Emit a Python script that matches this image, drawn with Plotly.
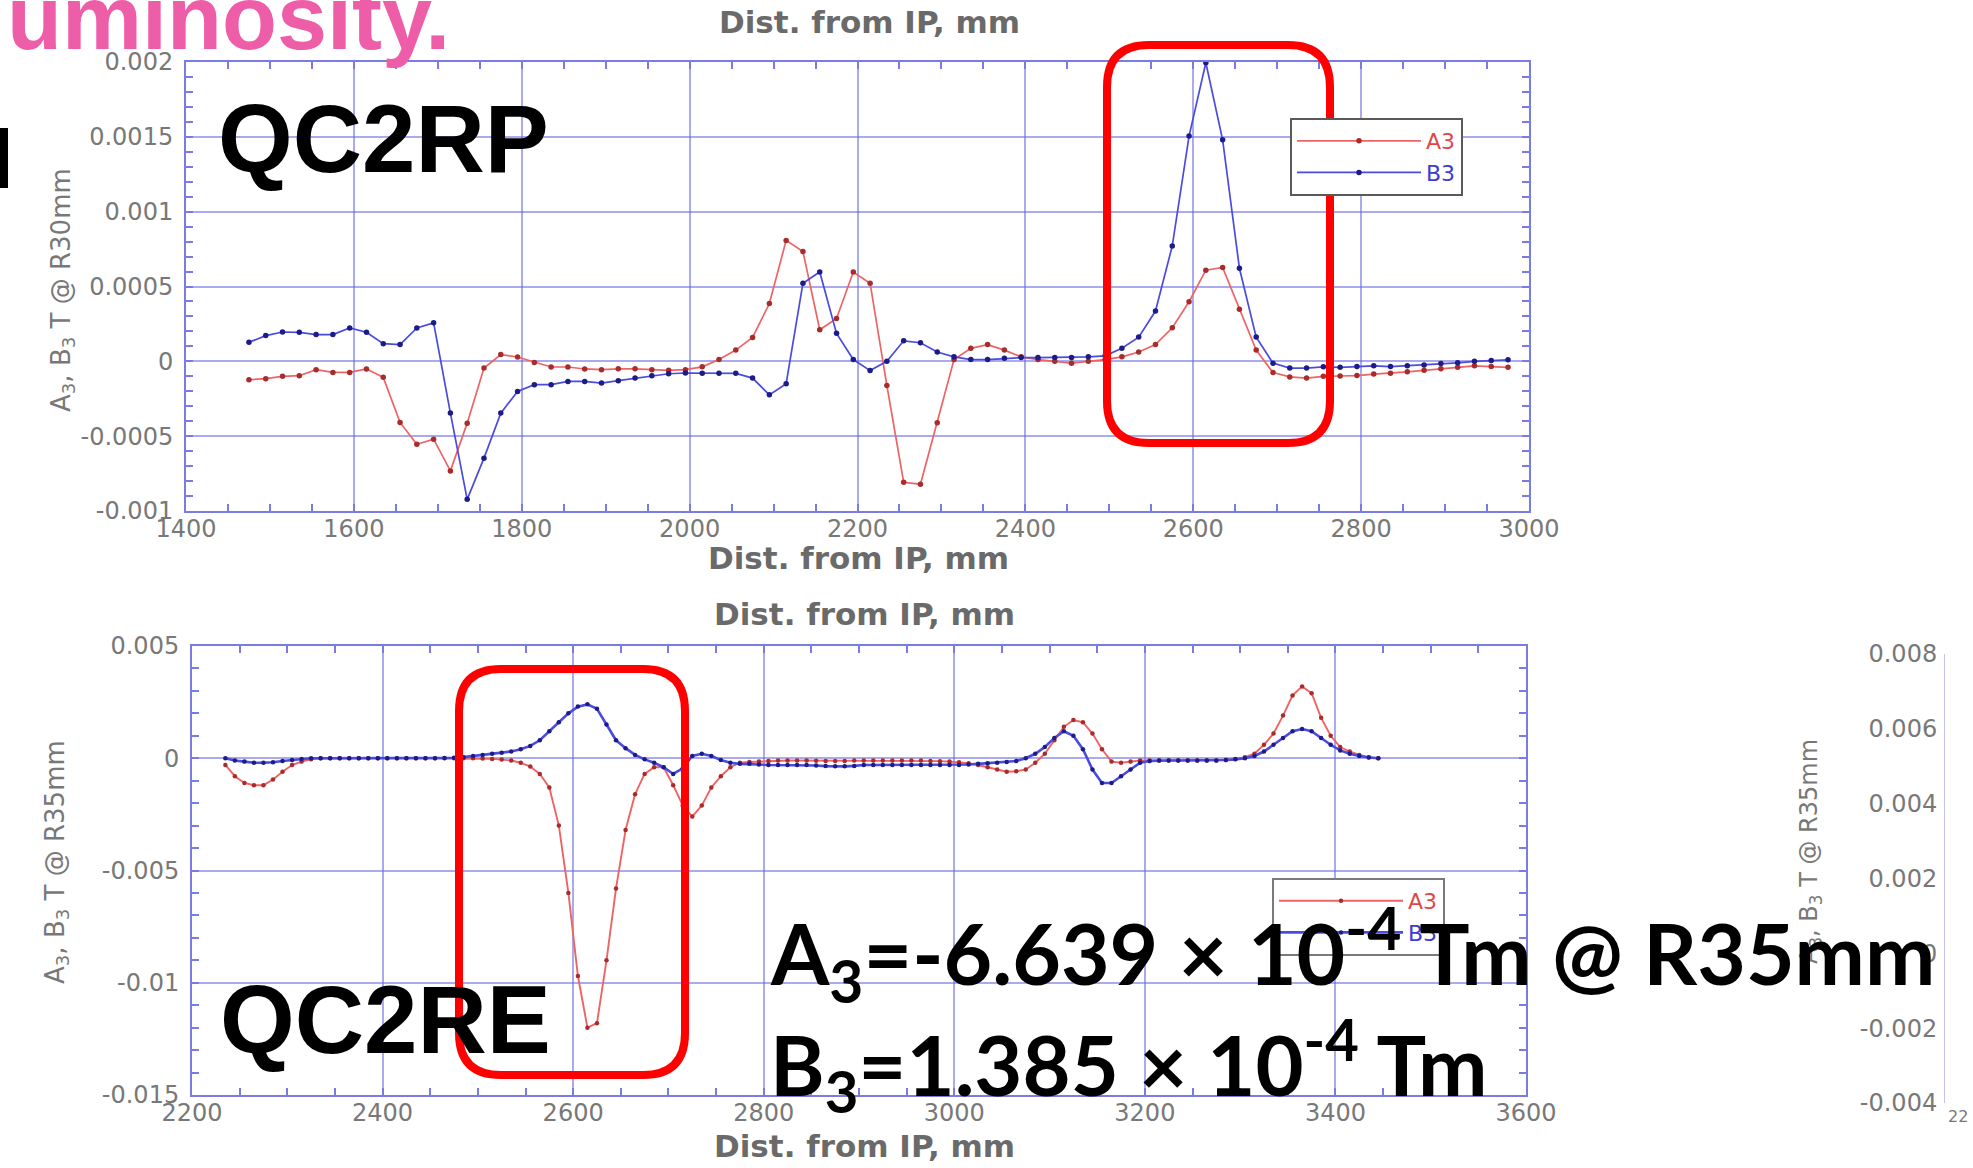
import plotly.graph_objects as go

# ---------------- data ----------------
# QC2RP: measured skew / normal sextupole components, T @ R30mm
top_x = [1475, 1495, 1515, 1535, 1555, 1575, 1595, 1615, 1635, 1655,
         1675, 1695, 1715, 1735, 1755, 1775, 1795, 1815, 1835, 1855,
         1875, 1895, 1915, 1935, 1955, 1975, 1995, 2015, 2035, 2055,
         2075, 2095, 2115, 2135, 2155, 2175, 2195, 2215, 2235, 2255,
         2275, 2295, 2315, 2335, 2355, 2375, 2395, 2415, 2435, 2455,
         2475, 2495, 2515, 2535, 2555, 2575, 2595, 2615, 2635, 2655,
         2675, 2695, 2715, 2735, 2755, 2775, 2795, 2815, 2835, 2855,
         2875, 2895, 2915, 2935, 2955, 2975]
top_a3 = [-0.000123, -0.000116, -0.000100, -0.000096, -0.000056, -0.000074, -0.000074, -0.000051, -0.000107, -0.000408,
          -0.000554, -0.000520, -0.000732, -0.000413, -0.000045, 0.000045, 0.000029, -0.000007, -0.000038, -0.000038,
          -0.000051, -0.000056, -0.000050, -0.000050, -0.000056, -0.000060, -0.000056, -0.000037, 0.000012, 0.000075,
          0.000160, 0.000386, 0.000808, 0.000734, 0.000211, 0.000286, 0.000597, 0.000522, -0.000162, -0.000808,
          -0.000821, -0.000410, 0.000012, 0.000087, 0.000112, 0.000075, 0.000030, 0.000012, 0.000000, -0.000012,
          0.000000, 0.000012, 0.000030, 0.000062, 0.000112, 0.000224, 0.000398, 0.000609, 0.000627, 0.000348,
          0.000075, -0.000075, -0.000104, -0.000112, -0.000100, -0.000098, -0.000095, -0.000085, -0.000080, -0.000070,
          -0.000060, -0.000050, -0.000040, -0.000030, -0.000035, -0.000040]
top_b3 = [0.000127, 0.000172, 0.000196, 0.000194, 0.000179, 0.000179, 0.000223, 0.000194, 0.000118, 0.000112,
          0.000223, 0.000257, -0.000346, -0.000922, -0.000647, -0.000346, -0.000201, -0.000156, -0.000156, -0.000134,
          -0.000134, -0.000145, -0.000129, -0.000112, -0.000096, -0.000083, -0.000078, -0.000080, -0.000080, -0.000080,
          -0.000112, -0.000224, -0.000149, 0.000522, 0.000597, 0.000187, 0.000012, -0.000062, 0.000000, 0.000137,
          0.000124, 0.000062, 0.000030, 0.000012, 0.000012, 0.000020, 0.000025, 0.000025, 0.000025, 0.000025,
          0.000030, 0.000037, 0.000087, 0.000162, 0.000336, 0.000771, 0.001505, 0.001995, 0.001480, 0.000622,
          0.000162, -0.000012, -0.000045, -0.000045, -0.000037, -0.000040, -0.000035, -0.000030, -0.000035, -0.000030,
          -0.000025, -0.000015, -0.000010, 0.000000, 0.000005, 0.000010]

# QC2RE: T @ R35mm
bot_x = [2235, 2245, 2255, 2265, 2275, 2285, 2295, 2305, 2315, 2325,
         2335, 2345, 2355, 2365, 2375, 2385, 2395, 2405, 2415, 2425,
         2435, 2445, 2455, 2465, 2475, 2485, 2495, 2505, 2515, 2525,
         2535, 2545, 2555, 2565, 2575, 2585, 2595, 2605, 2615, 2625,
         2635, 2645, 2655, 2665, 2675, 2685, 2695, 2705, 2715, 2725,
         2735, 2745, 2755, 2765, 2775, 2785, 2795, 2805, 2815, 2825,
         2835, 2845, 2855, 2865, 2875, 2885, 2895, 2905, 2915, 2925,
         2935, 2945, 2955, 2965, 2975, 2985, 2995, 3005, 3015, 3025,
         3035, 3045, 3055, 3065, 3075, 3085, 3095, 3105, 3115, 3125,
         3135, 3145, 3155, 3165, 3175, 3185, 3195, 3205, 3215, 3225,
         3235, 3245, 3255, 3265, 3275, 3285, 3295, 3305, 3315, 3325,
         3335, 3345, 3355, 3365, 3375, 3385, 3395, 3405, 3415, 3425,
         3435, 3445]
bot_a3 = [-0.0003, -0.0008, -0.0011, -0.0012, -0.0012, -0.00095, -0.0006, -0.0003, -0.00015, -0.00005,
          0.0, 0.0, 0.0, 0.0, 0.0, 0.0, 0.0, 0.0, 0.0, 0.0,
          0.0, 0.0, 0.0, 0.0, 0.0, 0.0, 0.0, -0.00001, -0.00003, -0.00006,
          -0.0001, -0.0002, -0.00037, -0.0007, -0.0013, -0.0030, -0.0060, -0.0097, -0.0120, -0.0118,
          -0.0090, -0.0058, -0.0032, -0.0016, -0.0007, -0.0004, -0.0004, -0.0012, -0.0021, -0.0026,
          -0.0021, -0.0013, -0.0008, -0.0004, -0.0002, -0.00017, -0.00015, -0.00012, -0.0001, -0.0001,
          -0.0001, -0.0001, -0.00011, -0.00012, -0.00012, -0.00012, -0.0001, -0.0001, -0.0001, -0.0001,
          -0.0001, -0.0001, -0.0001, -0.0001, -0.00012, -0.00013, -0.00015, -0.00018, -0.00022, -0.0003,
          -0.0004, -0.0005, -0.0006, -0.00058, -0.0005, -0.0002, 0.0002, 0.0008, 0.0014, 0.0017,
          0.0016, 0.0011, 0.0004, -0.00015, -0.0002, -0.00015, -0.0001, -0.0001, -0.0001, -0.0001,
          -0.0001, -0.0001, -0.0001, -0.0001, -0.0001, -0.00008, -0.00003, 0.00005, 0.0002, 0.0006,
          0.0011, 0.0019, 0.0028, 0.0032, 0.0029, 0.0018, 0.0010, 0.0005, 0.0003, 0.00015,
          0.00005, 0.0]
bot_b3 = [0.0, -0.0001, -0.00015, -0.0002, -0.0002, -0.00018, -0.00012, -0.00008, -0.00003, 0.0,
          0.0, 0.0, 0.0, 0.0, 0.0, 0.0, 0.0, 0.0, 0.0, 0.0,
          0.0, 0.0, 0.0, 0.00001, 0.00002, 0.00005, 0.0001, 0.00015, 0.0002, 0.00025,
          0.0003, 0.0004, 0.00055, 0.0008, 0.0012, 0.0016, 0.0020, 0.0023, 0.0024, 0.0022,
          0.0015, 0.0008, 0.00045, 0.00015, -0.00005, -0.0002, -0.0004, -0.0007, -0.00045, 0.0001,
          0.0002, 0.0001, -0.00008, -0.0002, -0.00025, -0.00025, -0.00028, -0.0003, -0.0003, -0.0003,
          -0.0003, -0.0003, -0.00032, -0.00035, -0.00036, -0.00036, -0.00034, -0.0003, -0.0003, -0.0003,
          -0.0003, -0.0003, -0.0003, -0.0003, -0.0003, -0.0003, -0.0003, -0.0003, -0.00028, -0.00025,
          -0.00022, -0.0002, -0.00017, -0.00012, 0.0, 0.0002, 0.0005, 0.0009, 0.0012, 0.0010,
          0.0004, -0.0005, -0.0011, -0.0011, -0.0008, -0.0005, -0.0002, -0.00012, -0.0001, -0.0001,
          -0.0001, -0.0001, -0.0001, -0.0001, -0.0001, -0.00008, -0.00005, 0.0, 0.0001, 0.0003,
          0.0006, 0.0009, 0.0012, 0.0013, 0.0012, 0.0009, 0.0006, 0.00035, 0.0002, 0.0001,
          0.00003, 0.0]

# tick labels
top_xticks = [1400, 1600, 1800, 2000, 2200, 2400, 2600, 2800, 3000]
top_yticks = [0.002, 0.0015, 0.001, 0.0005, 0, -0.0005, -0.001]
top_ytext = ["0.002", "0.0015", "0.001", "0.0005", "0", "-0.0005", "-0.001"]
bot_xticks = [2200, 2400, 2600, 2800, 3000, 3200, 3400, 3600]
bot_yticks = [0.005, 0, -0.005, -0.01, -0.015]
bot_ytext = ["0.005", "0", "-0.005", "-0.01", "-0.015"]
side_yticks = [0.008, 0.006, 0.004, 0.002, 0, -0.002, -0.004]
side_ytext = ["0.008", "0.006", "0.004", "0.002", "0", "-0.002", "-0.004"]

# ---------------- styling helpers ----------------
W, H = 1973, 1168


def px(x):
    return x / W


def py(y):
    return 1 - y / H


GRID = "rgba(100,100,225,0.55)"
AXIS = "#7b7be4"
LABEL_GRAY = "#787878"
TITLE_GRAY = "#6a6a6a"
TICKFONT = dict(family="DejaVu Sans", size=24, color=LABEL_GRAY)

RED_LINE, RED_MARK = "#ee6464", "#a82c2c"
BLUE_LINE, BLUE_MARK = "#4b4be0", "#1c1c86"


def frame_axis(domain, rng, tickvals, ticktext, minor_tick0, minor_dtick, anchor, standoff):
    return dict(
        domain=domain, range=rng, anchor=anchor, automargin=False,
        tickmode="array", tickvals=tickvals, ticktext=ticktext,
        showgrid=True, gridcolor=GRID, gridwidth=2,
        showline=True, linecolor=AXIS, linewidth=2, mirror="allticks",
        ticks="inside", ticklen=7, tickwidth=2, tickcolor=AXIS,
        minor=dict(tickmode="linear", tick0=minor_tick0, dtick=minor_dtick,
                   ticks="inside", ticklen=7, tickwidth=2, tickcolor=AXIS, showgrid=False),
        zeroline=False, tickfont=TICKFONT, ticklabelstandoff=standoff,
    )


def rounded_rect(x0, y0, x1, y1, r):
    pts = [
        ("M", [(x0 + r, y0)]), ("L", [(x1 - r, y0)]), ("Q", [(x1, y0), (x1, y0 + r)]),
        ("L", [(x1, y1 - r)]), ("Q", [(x1, y1), (x1 - r, y1)]),
        ("L", [(x0 + r, y1)]), ("Q", [(x0, y1), (x0, y1 - r)]),
        ("L", [(x0, y0 + r)]), ("Q", [(x0, y0), (x0 + r, y0)]),
    ]
    parts = []
    for cmd, coords in pts:
        parts.append(cmd + " ".join(f"{px(a):.5f},{py(b):.5f}" for a, b in coords))
    return " ".join(parts) + " Z"


A3_NAME = '<span style="color:#e04848">A3</span>'
B3_NAME = '<span style="color:#3c3cd0">B3</span>'

fig = go.Figure()

# QC2RP curves
fig.add_trace(go.Scatter(x=top_x, y=top_a3, mode="lines+markers", name=A3_NAME,
                         line=dict(color=RED_LINE, width=1.7), marker=dict(color=RED_MARK, size=5.5),
                         xaxis="x", yaxis="y", legend="legend"))
fig.add_trace(go.Scatter(x=top_x, y=top_b3, mode="lines+markers", name=B3_NAME,
                         line=dict(color=BLUE_LINE, width=1.7), marker=dict(color=BLUE_MARK, size=5.5),
                         xaxis="x", yaxis="y", legend="legend"))

# QC2RE curves
fig.add_trace(go.Scatter(x=bot_x, y=bot_a3, mode="lines+markers", name=A3_NAME,
                         line=dict(color=RED_LINE, width=1.9), marker=dict(color=RED_MARK, size=4.5),
                         xaxis="x2", yaxis="y2", legend="legend2"))
fig.add_trace(go.Scatter(x=bot_x, y=bot_b3, mode="lines+markers", name=B3_NAME,
                         line=dict(color=BLUE_LINE, width=2.6), marker=dict(color=BLUE_MARK, size=4.5),
                         xaxis="x2", yaxis="y2", legend="legend2"))

# neighbouring panel, only its value axis is in view
fig.add_trace(go.Scatter(x=[], y=[], xaxis="x3", yaxis="y3", showlegend=False))

layout = dict(
    width=W, height=H, autosize=False,
    margin=dict(l=0, r=0, t=0, b=0, pad=0, autoexpand=False),
    paper_bgcolor="white", plot_bgcolor="white",
    font=dict(family="DejaVu Sans"),
    xaxis=frame_axis([px(186), px(1529)], [1400, 3000], top_xticks, [str(v) for v in top_xticks],
                     1400, 50, "y", -5),
    yaxis=frame_axis([py(511), py(62)], [-0.001, 0.002], top_yticks, top_ytext, 0, 0.0001, "x", 6),
    xaxis2=frame_axis([px(192), px(1526)], [2200, 3600], bot_xticks, [str(v) for v in bot_xticks],
                      2200, 50, "y2", -5),
    yaxis2=frame_axis([py(1095), py(646)], [-0.015, 0.005], bot_yticks, bot_ytext, 0, 0.001, "x2", 6),
    xaxis3=dict(domain=[px(1945), 1.0], range=[2200, 3600], anchor="y3", visible=False, automargin=False),
    yaxis3=dict(domain=[py(1103), py(654)], range=[-0.004, 0.008], anchor="x3", automargin=False,
                tickmode="array", tickvals=side_yticks, ticktext=side_ytext,
                showgrid=False, zeroline=False, showline=True, linecolor="#c4c4ee", linewidth=1,
                ticks="", tickfont=TICKFONT, ticklabelstandoff=2),
    showlegend=True,
    legend=dict(x=px(1290), y=py(118), xanchor="left", yanchor="top",
                bgcolor="white", bordercolor="#5a5a5a", borderwidth=2,
                font=dict(family="DejaVu Sans", size=22), itemwidth=124, tracegroupgap=0),
    legend2=dict(x=px(1272), y=py(878), xanchor="left", yanchor="top",
                 bgcolor="white", bordercolor="#7a7a7a", borderwidth=2,
                 font=dict(family="DejaVu Sans", size=22), itemwidth=124, tracegroupgap=0),
)

annotations = []


def note(text, x, y, size, color, family, xanchor="center", yanchor="middle", angle=0):
    annotations.append(dict(text=text, x=px(x), y=py(y), xref="paper", yref="paper",
                            xanchor=xanchor, yanchor=yanchor, showarrow=False, textangle=angle,
                            font=dict(family=family, size=size, color=color)))


axis_title = "<b>Dist. from IP, mm</b>"
note(axis_title, 869, 22, 31, TITLE_GRAY, "DejaVu Sans")
note(axis_title, 858, 558, 31, TITLE_GRAY, "DejaVu Sans")
note(axis_title, 864, 614, 31, TITLE_GRAY, "DejaVu Sans")
note(axis_title, 864, 1146, 31, TITLE_GRAY, "DejaVu Sans")

note("A<sub>3</sub>, B<sub>3</sub> T @ R30mm", 62, 290, 26, LABEL_GRAY, "DejaVu Sans", angle=-90)
note("A<sub>3</sub>, B<sub>3</sub> T @ R35mm", 56, 862, 26, LABEL_GRAY, "DejaVu Sans", angle=-90)
note("A<sub>3</sub>, B<sub>3</sub> T @ R35mm", 1810, 852, 24, LABEL_GRAY, "DejaVu Sans", angle=-90)
note("22", 1970, 1116, 16, LABEL_GRAY, "DejaVu Sans", xanchor="right")

note("<b>uminosity.</b>", 452, 18, 90, "#ee5ea8", "Liberation Sans", xanchor="right")
note("<b>QC2RP</b>", 216, 139, 96, "black", "Liberation Sans", xanchor="left")
note("<b>QC2RE</b>", 218, 1019, 96, "black", "Liberation Sans", xanchor="left")

note("<b>A<sub>3</sub>=-6.639 × 10<sup>-4</sup> Tm @ R35mm</b>", 768, 954, 84, "black", "Lato", xanchor="left")
note("<b>B<sub>3</sub>=1.385 × 10<sup>-4</sup> Tm</b>", 768, 1064, 83, "black", "Lato", xanchor="left")

layout["annotations"] = annotations

layout["shapes"] = [
    dict(type="path", xref="paper", yref="paper", path=rounded_rect(1107, 45, 1330, 443, 42),
         line=dict(color="#ff0000", width=8), layer="above"),
    dict(type="path", xref="paper", yref="paper", path=rounded_rect(459, 669, 685, 1075, 42),
         line=dict(color="#ff0000", width=8), layer="above"),
    dict(type="rect", xref="paper", yref="paper", x0=px(0), x1=px(8), y0=py(188), y1=py(128),
         fillcolor="black", line=dict(width=0), layer="above"),
]

fig.update_layout(**layout)
fig.write_html("out.html")
